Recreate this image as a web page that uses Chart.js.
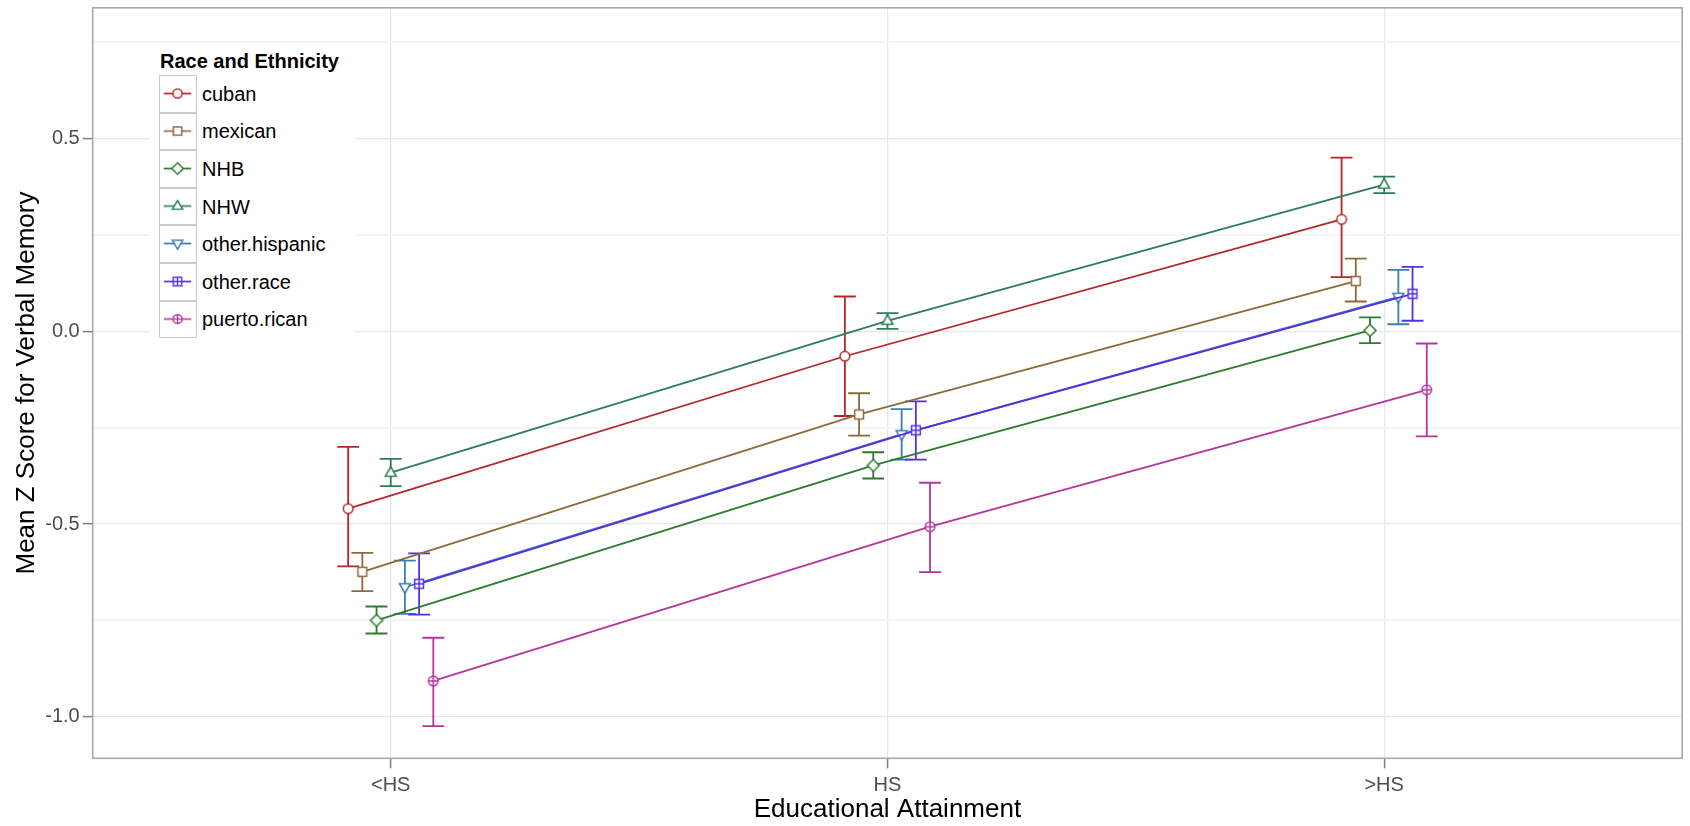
<!DOCTYPE html>
<html>
<head>
<meta charset="utf-8">
<script src="https://cdn.jsdelivr.net/npm/chart.js@4.4.1/dist/chart.umd.min.js"></script>
<style>
html,body{margin:0;padding:0;background:#fff;}
#wrap{position:relative;width:1690px;height:826px;font-family:"Liberation Sans",Arial,Helvetica,sans-serif;}
#c{position:absolute;left:0;top:0;}
#legendBg{position:absolute;left:150px;top:44px;width:205px;height:302px;background:#fff;}
#legendTitle{position:absolute;left:160px;top:49px;font-weight:bold;font-size:20px;line-height:24px;color:#000;white-space:nowrap;}
.key{position:absolute;left:159px;box-sizing:border-box;border:1.3px solid #cccccc;background:#fff;}
.lab{position:absolute;left:202px;font-size:20px;line-height:24px;color:#000;white-space:nowrap;}
</style>
</head>
<body>
<div id="wrap">
  <canvas id="c" width="1690" height="826"></canvas>
  <div id="legendBg"></div>
  <div id="legendTitle">Race and Ethnicity</div>
  <div id="legendRows"></div>
</div>
<script>
// ---------- data ----------
const categories = ['<HS', 'HS', '>HS'];
const seriesNames = ['cuban', 'mexican', 'NHB', 'NHW', 'other.hispanic', 'other.race', 'puerto.rican'];

const cubanMean = [-0.46, -0.065, 0.29];
const cubanLow  = [-0.61, -0.22, 0.14];
const cubanHigh = [-0.30, 0.09, 0.45];

const mexicanMean = [-0.624, -0.216, 0.13];
const mexicanLow  = [-0.674, -0.271, 0.077];
const mexicanHigh = [-0.575, -0.161, 0.188];

const nhbMean = [-0.75, -0.348, 0.002];
const nhbLow  = [-0.784, -0.382, -0.031];
const nhbHigh = [-0.714, -0.314, 0.036];

const nhwMean = [-0.367, 0.027, 0.38];
const nhwLow  = [-0.402, 0.006, 0.358];
const nhwHigh = [-0.331, 0.047, 0.401];

const otherHispanicMean = [-0.664, -0.267, 0.089];
const otherHispanicLow  = [-0.733, -0.333, 0.018];
const otherHispanicHigh = [-0.595, -0.202, 0.159];

const otherRaceMean = [-0.655, -0.257, 0.097];
const otherRaceLow  = [-0.735, -0.333, 0.027];
const otherRaceHigh = [-0.576, -0.182, 0.167];

const puertoRicanMean = [-0.907, -0.507, -0.152];
const puertoRicanLow  = [-1.024, -0.625, -0.273];
const puertoRicanHigh = [-0.795, -0.393, -0.032];

const yTickValues = [-1.0, -0.75, -0.5, -0.25, 0.0, 0.25, 0.5, 0.75];
const yMajorTicks = [-1.0, -0.5, 0.0, 0.5];

// ---------- styles ----------
const seriesColors = ['#B22828', '#8C6A3C', '#2F7A2C', '#2E7D5A', '#3C7DB5', '#5530E0', '#B4359C'];
const seriesShapes = ['circle', 'square', 'diamond', 'triangle', 'triangleDown', 'squarePlus', 'circlePlus'];

const meanArrays = [cubanMean, mexicanMean, nhbMean, nhwMean, otherHispanicMean, otherRaceMean, puertoRicanMean];
const lowArrays  = [cubanLow, mexicanLow, nhbLow, nhwLow, otherHispanicLow, otherRaceLow, puertoRicanLow];
const highArrays = [cubanHigh, mexicanHigh, nhbHigh, nhwHigh, otherHispanicHigh, otherRaceHigh, puertoRicanHigh];

const FONT = '"Liberation Sans", Arial, Helvetica, sans-serif';
const DODGE = 0.2;
const CAP_HALF = 0.022;

function drawShape(g, shape, color, cx, cy) {
  g.save();
  g.strokeStyle = color;
  g.fillStyle = '#ffffff';
  g.lineWidth = 1.5;
  g.beginPath();
  if (shape === 'circle' || shape === 'circlePlus') {
    g.arc(cx, cy, 4.8, 0, Math.PI * 2);
  } else if (shape === 'square' || shape === 'squarePlus') {
    g.rect(cx - 4.4, cy - 4.4, 8.8, 8.8);
  } else if (shape === 'diamond') {
    g.moveTo(cx, cy - 6); g.lineTo(cx + 6, cy); g.lineTo(cx, cy + 6); g.lineTo(cx - 6, cy); g.closePath();
  } else if (shape === 'triangle') {
    g.moveTo(cx, cy - 6); g.lineTo(cx + 5.5, cy + 3.5); g.lineTo(cx - 5.5, cy + 3.5); g.closePath();
  } else if (shape === 'triangleDown') {
    g.moveTo(cx, cy + 6); g.lineTo(cx + 5.5, cy - 3.5); g.lineTo(cx - 5.5, cy - 3.5); g.closePath();
  }
  g.fill();
  g.stroke();
  if (shape === 'circlePlus' || shape === 'squarePlus') {
    const h = shape === 'circlePlus' ? 4.8 : 4.4;
    g.beginPath();
    g.moveTo(cx - h, cy); g.lineTo(cx + h, cy);
    g.moveTo(cx, cy - h); g.lineTo(cx, cy + h);
    g.stroke();
  }
  g.restore();
}

function makeMarker(shape, color) {
  const c = document.createElement('canvas');
  c.width = 16; c.height = 16;
  drawShape(c.getContext('2d'), shape, color, 8, 8);
  return c;
}

// ---------- datasets ----------
const n = seriesNames.length;
const datasets = seriesNames.map((name, i) => ({
  label: name,
  order: n - i,
  data: categories.map((c, j) => ({
    x: j + (i - (n - 1) / 2) * DODGE / n,
    y: meanArrays[i][j],
    lo: lowArrays[i][j],
    hi: highArrays[i][j]
  })),
  borderColor: seriesColors[i],
  backgroundColor: '#ffffff',
  borderWidth: 1.8,
  pointStyle: makeMarker(seriesShapes[i], seriesColors[i]),
  pointRadius: 6,
  pointHoverRadius: 6,
  tension: 0,
  fill: false
}));

// ---------- plugins ----------
const errorBars = {
  id: 'errorBars',
  beforeDatasetsDraw(chart) {
    const ctx = chart.ctx;
    const xs = chart.scales.x, ys = chart.scales.y;
    ctx.save();
    chart.data.datasets.forEach((ds, i) => {
      ctx.strokeStyle = ds.borderColor;
      ctx.lineWidth = 1.8;
      ds.data.forEach(d => {
        const x = xs.getPixelForValue(d.x);
        const xl = xs.getPixelForValue(d.x - CAP_HALF);
        const xr = xs.getPixelForValue(d.x + CAP_HALF);
        const yl = ys.getPixelForValue(d.lo);
        const yh = ys.getPixelForValue(d.hi);
        ctx.beginPath();
        ctx.moveTo(x, yl); ctx.lineTo(x, yh);
        ctx.moveTo(xl, yl); ctx.lineTo(xr, yl);
        ctx.moveTo(xl, yh); ctx.lineTo(xr, yh);
        ctx.stroke();
      });
    });
    ctx.restore();
  }
};

const panelBorder = {
  id: 'panelBorder',
  beforeDatasetsDraw(chart) {
    const {left, top, right, bottom} = chart.chartArea;
    const ctx = chart.ctx;
    ctx.save();
    ctx.strokeStyle = '#a8a8a8';
    ctx.lineWidth = 1.6;
    ctx.strokeRect(left, top, right - left, bottom - top);
    ctx.restore();
  }
};

const isMajor = v => yMajorTicks.some(m => Math.abs(m - v) < 1e-9);

new Chart(document.getElementById('c'), {
  type: 'line',
  data: { datasets },
  options: {
    responsive: false,
    animation: false,
    devicePixelRatio: 1,
    layout: { padding: { left: 0, top: 5.7, right: 2, bottom: 0 } },
    plugins: { legend: { display: false }, tooltip: { enabled: false } },
    scales: {
      x: {
        type: 'linear',
        min: -0.6,
        max: 2.6,
        afterBuildTicks: s => { s.ticks = categories.map((c, i) => ({ value: i })); },
        afterFit: s => { s.height = 67.7; s.paddingLeft = 0; s.paddingRight = 0; },
        ticks: {
          autoSkip: false, maxRotation: 0, padding: 5,
          color: '#4d4d4d', font: { family: FONT, size: 20 },
          callback: v => categories[Math.round(v)]
        },
        grid: { color: '#e6e6e6', lineWidth: 1.2, tickColor: '#7f7f7f', tickLength: 10, tickWidth: 1.5 },
        border: { display: false },
        title: { display: true, text: 'Educational Attainment', color: '#000', font: { family: FONT, size: 26 }, padding: { top: 0, bottom: 1 } }
      },
      y: {
        type: 'linear',
        min: -1.1076,
        max: 0.8386,
        afterBuildTicks: s => { s.ticks = yTickValues.map(v => ({ value: v })); },
        afterFit: s => { s.width = 92.7; s.paddingTop = 0; s.paddingBottom = 0; },
        ticks: {
          autoSkip: false, padding: 3,
          color: '#4d4d4d', font: { family: FONT, size: 20 },
          callback: v => isMajor(v) ? v.toFixed(1) : ''
        },
        grid: {
          color: c => isMajor(c.tick.value) ? '#e6e6e6' : '#f5f5f5',
          lineWidth: c => isMajor(c.tick.value) ? 1.2 : 2,
          tickColor: c => isMajor(c.tick.value) ? '#7f7f7f' : 'rgba(0,0,0,0)',
          tickLength: 10, tickWidth: 1.5
        },
        border: { display: false },
        title: { display: true, text: 'Mean Z Score for Verbal Memory', color: '#000', font: { family: FONT, size: 26 }, padding: { top: 11, bottom: 0 } }
      }
    }
  },
  plugins: [errorBars, panelBorder]
});

// ---------- legend (HTML, built from the series arrays) ----------
const rows = document.getElementById('legendRows');
const KEY_TOP = 75, KEY_H = 37.6, KEY_W = 37.6;
seriesNames.forEach((name, i) => {
  const key = document.createElement('canvas');
  key.className = 'key';
  key.width = 38; key.height = 38;
  key.style.top = (KEY_TOP + i * KEY_H) + 'px';
  key.style.width = KEY_W + 'px';
  key.style.height = KEY_H + 'px';
  const g = key.getContext('2d');
  g.strokeStyle = seriesColors[i];
  g.lineWidth = 1.8;
  g.beginPath(); g.moveTo(4, 18.5); g.lineTo(33, 18.5); g.stroke();
  drawShape(g, seriesShapes[i], seriesColors[i], 18.5, 18.5);
  rows.appendChild(key);
  const lab = document.createElement('div');
  lab.className = 'lab';
  lab.textContent = name;
  lab.style.top = (KEY_TOP + i * KEY_H + KEY_H / 2 - 12) + 'px';
  rows.appendChild(lab);
});
</script>
</body>
</html>
